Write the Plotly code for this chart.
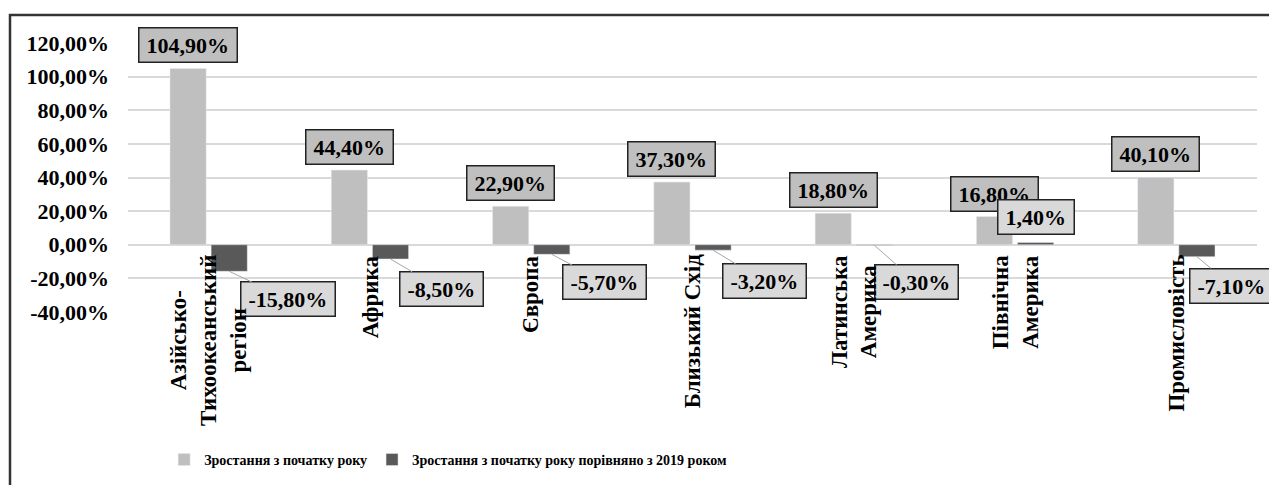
import plotly.graph_objects as go

categories = ["Азійсько-<br>Тихоокеанський<br>регіон", "Африка", "Європа", "Близький Схід",
              "Латинська<br>Америка", "Північна<br>Америка", "Промисловість"]
growth_ytd = [104.9, 44.4, 22.9, 37.3, 18.8, 16.8, 40.1]
growth_vs_2019 = [-15.8, -8.5, -5.7, -3.2, -0.3, 1.4, -7.1]
y_ticks = [-40, -20, 0, 20, 40, 60, 80, 100, 120]

name1 = "Зростання з початку року"
name2 = "Зростання з початку року порівняно з 2019 роком"

FONT = "Liberation Serif"
LIGHT = "#bfbfbf"
DARK = "#595959"

# pixel offsets of the dark-series labels (Excel leader lines)
dark_offsets = [(59, 28), (51, 30), (53, 28), (51, 31), (42, 37), (0, 0), (35, 29)]

# page has an 8px body margin, so the figure is laid out 8px up/left
W, H = 1277, 485
ml, mr, mt, mb = 120, 28, 35, 181
pw, ph = W - ml - mr, H - mt - mb
bargap, bargroupgap = 0.49, 0.12
FS = 22


def pct(v):
    return f"{v:.2f}".replace(".", ",") + "%"


def text_w(s, size=FS):
    em = {",": 0.25, "%": 1.0, "-": 0.333}
    return sum(em.get(ch, 0.5) for ch in s) * size


idx = list(range(len(categories)))
fig = go.Figure()
fig.add_trace(go.Bar(x=idx, y=growth_ytd, name=name1, marker_color=LIGHT))
fig.add_trace(go.Bar(x=idx, y=growth_vs_2019, name=name2, marker_color=DARK))

shift = (1 - bargap) / 4
lab_font = dict(family=FONT, size=FS, color="black", weight="bold")
ann = []
for i, v in enumerate(growth_ytd):
    t = pct(v)
    ann.append(dict(x=i - shift, y=v, text=t, showarrow=False, width=text_w(t) + 6,
                    yanchor="bottom", yshift=5, font=lab_font, bgcolor=LIGHT,
                    bordercolor="#222", borderwidth=1.5, borderpad=4))
for i, v in enumerate(growth_vs_2019):
    t = pct(v)
    box = dict(text=t, font=lab_font, bgcolor="#d9d9d9", width=text_w(t) + 6,
               bordercolor="#222", borderwidth=1.5, borderpad=4)
    if v >= 0:
        ann.append(dict(x=i + shift, y=v, showarrow=False, yanchor="bottom", yshift=7, **box))
    else:
        ax, ay = dark_offsets[i]
        ann.append(dict(x=i + shift, y=v, showarrow=True, arrowhead=0, arrowwidth=1,
                        arrowcolor="#a6a6a6", ax=ax, ay=ay, standoff=0, **box))
for i, c in enumerate(categories):
    ann.append(dict(x=i, y=0, text=c, textangle=-90, showarrow=False,
                    yanchor="top", xanchor="center", yshift=-8, align="center",
                    font=dict(family=FONT, size=23, color="black", weight="bold")))

fig.update_layout(
    width=W, height=H, autosize=False,
    margin=dict(l=ml, r=mr, t=mt, b=mb),
    paper_bgcolor="white", plot_bgcolor="white",
    barmode="group", bargap=bargap, bargroupgap=bargroupgap,
    annotations=ann,
    font=dict(family=FONT, color="black"),
    xaxis=dict(range=[-0.5, len(categories) - 0.5], showticklabels=False, showgrid=False,
               zeroline=False, showline=False, ticks=""),
    yaxis=dict(range=[-40, 120], tickvals=y_ticks,
               ticktext=[f"{t:.2f}".replace(".", ",") + "%" for t in y_ticks],
               tickfont=dict(family=FONT, size=FS, color="black", weight="bold"),
               ticklabelstandoff=18,
               showgrid=True, gridcolor="#d9d9d9", gridwidth=1.5, zeroline=True,
               zerolinecolor="#d9d9d9", zerolinewidth=1.5, showline=False),
    legend=dict(orientation="h", x=0.032, y=-0.55, xanchor="left", yanchor="middle",
                font=dict(family=FONT, size=14, color="black", weight="bold"),
                itemwidth=30),
    shapes=[dict(type="rect", xref="paper", yref="paper",
                 x0=(2 - ml) / pw, x1=1.2, y0=-1.5, y1=(H - mb - 7) / ph,
                 line=dict(color="#333333", width=2.5), layer="below")],
)

fig.write_html("out.html")
